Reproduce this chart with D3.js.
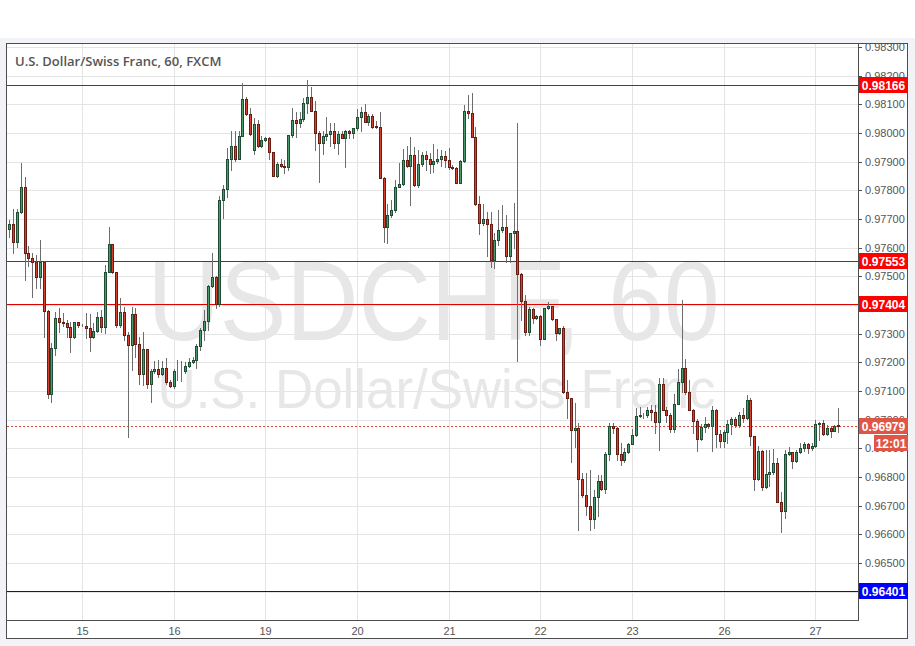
<!DOCTYPE html>
<html><head><meta charset="utf-8">
<script src="https://cdn.jsdelivr.net/npm/d3@7"></script>
<style>html,body{margin:0;padding:0;background:#fff;}svg{display:block;}</style>
</head><body><svg id="c" width="915" height="646"></svg>
<script>
// ---- data (hourly candles, 14th 05:00 -> 27th 06:00) ----
const openP = [
0.97664,0.97684,0.97619,0.97723,0.97810,0.97580,0.97563,0.97549,0.97496,0.97549,
0.97380,0.97088,0.97249,0.97354,0.97342,0.97338,0.97322,0.97287,0.97340,0.97330,
0.97327,0.97318,0.97287,0.97310,0.97357,0.97322,0.97516,0.97612,0.97514,0.97329,
0.97377,0.97294,0.97259,0.97368,0.97264,0.97158,0.97245,0.97126,0.97169,0.97175,
0.97159,0.97181,0.97130,0.97119,0.97169,0.97170,0.97169,0.97188,0.97200,0.97208,
0.97257,0.97313,0.97344,0.97466,0.97497,0.97402,0.97768,0.97803,0.97908,0.97955,
0.97911,0.97990,0.98117,0.98068,0.97940,0.98030,0.97955,0.97975,0.97981,0.97932,
0.97851,0.97891,0.97886,0.97880,0.97992,0.98045,0.98036,0.98048,0.98104,0.98125,
0.98078,0.98001,0.97966,0.97990,0.97996,0.98008,0.97966,0.97996,0.97984,0.98007,
0.97999,0.98016,0.98055,0.98072,0.98039,0.98058,0.98024,0.98022,0.97844,0.97673,
0.97714,0.97731,0.97812,0.97821,0.97906,0.97886,0.97923,0.97820,0.97891,0.97923,
0.97909,0.97891,0.97902,0.97909,0.97919,0.97906,0.97883,0.97878,0.97827,0.97902,
0.98077,0.98071,0.97987,0.97751,0.97685,0.97700,0.97681,0.97557,0.97627,0.97661,
0.97672,0.97572,0.97650,0.97658,0.97507,0.97415,0.97305,0.97386,0.97353,0.97362,
0.97281,0.97388,0.97396,0.97350,0.97301,0.97318,0.97095,0.97074,0.96964,0.96972,
0.96792,0.96737,0.96700,0.96652,0.96729,0.96785,0.96757,0.96880,0.96978,0.96970,
0.96880,0.96859,0.96886,0.96915,0.96946,0.97013,0.97016,0.97016,0.97033,0.97027,
0.96993,0.97126,0.97035,0.97016,0.96966,0.97056,0.97130,0.97179,0.97095,0.97035,
0.96996,0.96931,0.96975,0.96985,0.96977,0.97035,0.96950,0.96926,0.96957,0.96985,
0.97001,0.96981,0.97016,0.97004,0.97068,0.96943,0.96792,0.96890,0.96764,0.96810,
0.96816,0.96848,0.96713,0.96681,0.96879,0.96886,0.96855,0.96886,0.96900,0.96914,
0.96900,0.96908,0.96985,0.96988,0.96950,0.96971,0.96961,0.96980];
const highP = [
0.97696,0.97734,0.97734,0.97894,0.97845,0.97605,0.97580,0.97575,0.97627,0.97552,
0.97382,0.97266,0.97377,0.97389,0.97372,0.97348,0.97342,0.97342,0.97341,0.97332,
0.97372,0.97368,0.97337,0.97377,0.97382,0.97539,0.97671,0.97614,0.97516,0.97424,
0.97394,0.97305,0.97394,0.97390,0.97289,0.97306,0.97248,0.97175,0.97205,0.97208,
0.97204,0.97214,0.97138,0.97175,0.97208,0.97204,0.97201,0.97214,0.97219,0.97264,
0.97319,0.97382,0.97470,0.97580,0.97500,0.97780,0.97818,0.97946,0.98007,0.98007,
0.98007,0.98173,0.98127,0.98086,0.98051,0.98047,0.97990,0.97986,0.97987,0.97934,
0.97900,0.97908,0.97906,0.97994,0.98086,0.98074,0.98074,0.98121,0.98185,0.98162,
0.98110,0.98008,0.98008,0.98057,0.98034,0.98036,0.98008,0.98007,0.98010,0.98011,
0.98018,0.98083,0.98090,0.98100,0.98068,0.98068,0.98041,0.98073,0.97845,0.97751,
0.97768,0.97836,0.97894,0.97944,0.97955,0.97987,0.97951,0.97940,0.97934,0.97937,
0.97931,0.97961,0.97944,0.97940,0.97937,0.97947,0.97887,0.97880,0.97906,0.98098,
0.98133,0.98140,0.98022,0.97780,0.97752,0.97725,0.97725,0.97651,0.97731,0.97748,
0.97714,0.97651,0.97755,0.98036,0.97510,0.97435,0.97394,0.97388,0.97364,0.97364,
0.97390,0.97411,0.97397,0.97351,0.97319,0.97326,0.97138,0.97075,0.97057,0.96988,
0.96814,0.96814,0.96824,0.96754,0.96806,0.96806,0.96886,0.96987,0.96987,0.96973,
0.96919,0.96900,0.96919,0.96966,0.97039,0.97045,0.97023,0.97045,0.97051,0.97051,
0.97144,0.97144,0.97045,0.97022,0.97091,0.97175,0.97418,0.97210,0.97138,0.97036,
0.97001,0.96985,0.97010,0.96990,0.97047,0.97036,0.96964,0.96964,0.96999,0.97010,
0.97010,0.97028,0.97039,0.97086,0.97074,0.96944,0.96908,0.96894,0.96894,0.96894,
0.96896,0.96865,0.96748,0.96894,0.96905,0.96887,0.96894,0.96917,0.96921,0.96917,
0.96917,0.96999,0.96993,0.96999,0.96982,0.96977,0.96980,0.97042];
const lowP = [
0.97638,0.97583,0.97604,0.97720,0.97487,0.97535,0.97429,0.97459,0.97459,0.97289,
0.97074,0.97060,0.97226,0.97307,0.97327,0.97289,0.97237,0.97284,0.97322,0.97328,
0.97285,0.97240,0.97284,0.97306,0.97306,0.97303,0.97514,0.97510,0.97324,0.97324,
0.97278,0.96940,0.97173,0.97219,0.97126,0.97120,0.97112,0.97060,0.97161,0.97150,
0.97155,0.97126,0.97114,0.97112,0.97138,0.97136,0.97161,0.97184,0.97196,0.97179,
0.97243,0.97278,0.97313,0.97464,0.97388,0.97395,0.97702,0.97776,0.97871,0.97903,
0.97909,0.97988,0.98063,0.97993,0.97926,0.97952,0.97952,0.97973,0.97911,0.97849,
0.97847,0.97883,0.97859,0.97871,0.97987,0.97987,0.98022,0.98042,0.98069,0.98076,
0.97940,0.97830,0.97926,0.97975,0.97955,0.97946,0.97926,0.97982,0.97883,0.97982,
0.97982,0.98010,0.98008,0.98038,0.98028,0.98016,0.98018,0.97842,0.97620,0.97617,
0.97708,0.97725,0.97811,0.97818,0.97882,0.97748,0.97815,0.97811,0.97885,0.97872,
0.97862,0.97864,0.97894,0.97885,0.97881,0.97873,0.97873,0.97824,0.97824,0.97899,
0.98052,0.97986,0.97749,0.97648,0.97679,0.97572,0.97533,0.97530,0.97609,0.97654,
0.97550,0.97549,0.97598,0.97205,0.97348,0.97295,0.97295,0.97336,0.97352,0.97260,
0.97280,0.97385,0.97349,0.97278,0.97300,0.97093,0.97005,0.96853,0.96906,0.96615,
0.96731,0.96667,0.96615,0.96622,0.96664,0.96754,0.96743,0.96859,0.96952,0.96859,
0.96841,0.96853,0.96882,0.96914,0.96943,0.97008,0.97005,0.97008,0.96999,0.96954,
0.96894,0.97033,0.96993,0.96957,0.96957,0.97054,0.97097,0.97091,0.97033,0.96954,
0.96891,0.96929,0.96957,0.96971,0.96891,0.96906,0.96906,0.96906,0.96917,0.96950,
0.96975,0.96975,0.96993,0.97003,0.96911,0.96754,0.96789,0.96754,0.96762,0.96768,
0.96812,0.96711,0.96609,0.96657,0.96876,0.96832,0.96853,0.96882,0.96891,0.96882,
0.96894,0.96906,0.96929,0.96946,0.96946,0.96939,0.96959,0.96957];
const closeP = [
0.97684,0.97619,0.97723,0.97810,0.97580,0.97563,0.97549,0.97496,0.97549,0.97380,
0.97088,0.97249,0.97354,0.97342,0.97338,0.97322,0.97287,0.97340,0.97329,0.97330,
0.97318,0.97287,0.97310,0.97357,0.97322,0.97516,0.97612,0.97514,0.97329,0.97377,
0.97294,0.97259,0.97368,0.97264,0.97158,0.97245,0.97126,0.97169,0.97175,0.97159,
0.97181,0.97130,0.97119,0.97169,0.97170,0.97169,0.97188,0.97200,0.97208,0.97257,
0.97313,0.97344,0.97466,0.97497,0.97402,0.97768,0.97803,0.97908,0.97955,0.97911,
0.97990,0.98117,0.98068,0.97995,0.98030,0.97955,0.97975,0.97981,0.97932,0.97851,
0.97891,0.97886,0.97880,0.97992,0.98045,0.98036,0.98048,0.98104,0.98125,0.98078,
0.98001,0.97966,0.97990,0.97996,0.98008,0.97966,0.97996,0.97984,0.98007,0.97999,
0.98016,0.98055,0.98072,0.98039,0.98058,0.98020,0.98020,0.97844,0.97673,0.97714,
0.97731,0.97812,0.97821,0.97906,0.97886,0.97923,0.97820,0.97891,0.97923,0.97909,
0.97891,0.97902,0.97909,0.97919,0.97906,0.97883,0.97878,0.97827,0.97902,0.98077,
0.98071,0.97987,0.97751,0.97685,0.97700,0.97681,0.97557,0.97627,0.97661,0.97672,
0.97572,0.97650,0.97658,0.97507,0.97415,0.97305,0.97386,0.97353,0.97362,0.97281,
0.97388,0.97396,0.97350,0.97301,0.97318,0.97095,0.97074,0.96964,0.96972,0.96792,
0.96737,0.96700,0.96652,0.96729,0.96785,0.96757,0.96880,0.96978,0.96970,0.96880,
0.96859,0.96886,0.96915,0.96946,0.97013,0.97016,0.97016,0.97033,0.97027,0.96993,
0.97126,0.97035,0.97016,0.96966,0.97056,0.97130,0.97179,0.97095,0.97035,0.96996,
0.96931,0.96975,0.96985,0.96977,0.97035,0.96950,0.96926,0.96957,0.96985,0.97001,
0.96981,0.97016,0.97004,0.97068,0.96943,0.96792,0.96890,0.96764,0.96810,0.96816,
0.96848,0.96713,0.96681,0.96879,0.96886,0.96855,0.96886,0.96900,0.96914,0.96900,
0.96908,0.96985,0.96988,0.96950,0.96971,0.96961,0.96978,0.96979];

const dayLabels = ["15","16","19","20","21","22","23","26","27"];
const dayStartIndex = [19,43,67,91,115,139,163,187,211];
const priceTicks = [0.983,0.982,0.981,0.980,0.979,0.978,0.977,0.976,0.975,0.974,0.973,0.972,0.971,0.970,0.969,0.968,0.967,0.966,0.965,0.964];
const levelValues = [0.98166, 0.97553, 0.97404, 0.96401];
const levelColors = ["#e00000", "#e00000", "#e00000", "#0000ff"];
const levelBoxColors = ["#ff0000", "#ff0000", "#ff0000", "#0000ff"];
const lastPrice = 0.96979;
const countdown = "12:01";
const titleText = "U.S. Dollar/Swiss Franc, 60, FXCM";
const wmMain = "USDCHF, 60";
const wmSub = "U.S. Dollar/Swiss Franc";

// ---- layout ----
const L = 7, R = 858, T = 43, B = 620;
const svg = d3.select("#c");
const n = openP.length;
const candles = d3.range(n).map(i => ({i, o: openP[i], h: highP[i], l: lowP[i], c: closeP[i]}));

const x = d3.scaleBand().domain(d3.range(n)).range([7.4, 7.4 + n * 3.82]).paddingInner(0);
const cx = i => x(i) + x.bandwidth() / 2;
const y = d3.scaleLinear().domain([0.96301, 0.98314]).range([B, T]);

svg.append("rect").attr("x",0).attr("y",38).attr("width",915).attr("height",608).attr("fill","#f2f3f7");
svg.append("rect").attr("x",6.5).attr("y",43.5).attr("width",901).attr("height",595).attr("fill","#fff").attr("stroke","#4d4d4d");

const defs = svg.append("defs");
defs.append("clipPath").attr("id","plot").append("rect").attr("x",L).attr("y",T+1).attr("width",R-L).attr("height",B-T-1);

const g = svg.append("g").attr("clip-path","url(#plot)");
// grid
g.selectAll("line.hg").data(priceTicks).join("line")
  .attr("x1",L).attr("x2",R).attr("y1",d=>Math.round(y(d))+0.5).attr("y2",d=>Math.round(y(d))+0.5)
  .attr("stroke","#e4e4e4");
g.selectAll("line.vg").data(dayStartIndex).join("line")
  .attr("x1",d=>Math.round(cx(d))+0.5).attr("x2",d=>Math.round(cx(d))+0.5).attr("y1",T).attr("y2",B)
  .attr("stroke","#e4e4e4");

// watermark
const wmX = (L + R) / 2 + 1;
g.append("text").text(wmMain).attr("x",wmX).attr("y",340).attr("text-anchor","middle")
  .attr("font-family","Liberation Sans, Arial, sans-serif").attr("font-size",114)
  .attr("textLength",572).attr("lengthAdjust","spacingAndGlyphs").attr("fill","#e7e7e7");
g.append("text").text(wmSub).attr("x",wmX+3).attr("y",408).attr("text-anchor","middle")
  .attr("font-family","Liberation Sans, Arial, sans-serif").attr("font-size",55)
  .attr("textLength",558).attr("lengthAdjust","spacingAndGlyphs").attr("fill","#e7e7e7");

// level lines
g.selectAll("line.lv").data(levelValues).join("line")
  .attr("x1",L).attr("x2",R).attr("y1",d=>Math.round(y(d))+0.5).attr("y2",d=>Math.round(y(d))+0.5)
  .attr("stroke",(d,i)=>levelColors[i]).attr("stroke-width",1);

// current price dashed
g.append("line").attr("x1",L).attr("x2",R)
  .attr("y1",Math.round(y(lastPrice))+0.5).attr("y2",Math.round(y(lastPrice))+0.5)
  .attr("stroke","#d9463a").attr("stroke-dasharray","2,2");

// candles
const cg = g.append("g");
const up = d => d.c >= d.o;
cg.selectAll("line.wick").data(candles).join("line")
  .attr("x1",d=>Math.round(cx(d.i))+0.5).attr("x2",d=>Math.round(cx(d.i))+0.5)
  .attr("y1",d=>Math.round(y(d.h))).attr("y2",d=>Math.round(y(d.l))+1)
  .attr("stroke","#6d6d6d");
cg.selectAll("rect.body").data(candles).join("rect")
  .attr("x",d=>Math.round(cx(d.i))-0.5)
  .attr("y",d=>Math.round(y(Math.max(d.o,d.c)))+0.5)
  .attr("width",2)
  .attr("height",d=>Math.max(0, Math.round(y(Math.min(d.o,d.c))) - Math.round(y(Math.max(d.o,d.c)))))
  .attr("fill",d=>up(d)?"#4a9a6b":"#d4402e")
  .attr("stroke",d=>up(d)?"#1f4d33":"#6a1c12").attr("stroke-width",1);

// axes lines
svg.append("line").attr("x1",R+0.5).attr("x2",R+0.5).attr("y1",T).attr("y2",B+1).attr("stroke","#4d4d4d");
svg.append("line").attr("x1",L).attr("x2",R+1).attr("y1",B+0.5).attr("y2",B+0.5).attr("stroke","#4d4d4d");

// price ticks & labels
const yt = svg.append("g");
yt.selectAll("line").data(priceTicks).join("line")
  .attr("x1",R).attr("x2",R+4).attr("y1",d=>Math.round(y(d))+0.5).attr("y2",d=>Math.round(y(d))+0.5)
  .attr("stroke","#4d4d4d");
yt.selectAll("text").data(priceTicks).join("text")
  .attr("x",R+7).attr("y",d=>y(d)+4).text(d=>d3.format(".5f")(d))
  .attr("font-family","Liberation Sans, Arial, sans-serif").attr("font-size",11).attr("fill","#555");

// time labels
svg.selectAll("text.tl").data(dayStartIndex).join("text")
  .attr("x",d=>Math.round(cx(d))+0.5).attr("y",635).attr("text-anchor","middle").text((d,i)=>dayLabels[i])
  .attr("font-family","Liberation Sans, Arial, sans-serif").attr("font-size",11).attr("fill","#555");

// level boxes
const box = (val, color, txt, x0, w) => {
  const yy = Math.round(y(val));
  svg.append("rect").attr("x",x0).attr("y",yy-8).attr("width",w).attr("height",16).attr("fill",color);
  svg.append("text").attr("x",x0 + w/2).attr("y",yy+4.5).attr("text-anchor","middle").text(txt)
    .attr("font-family","Liberation Sans, Arial, sans-serif").attr("font-size",12).attr("font-weight","bold").attr("fill","#fff");
};
levelValues.forEach((v,i)=>box(v, levelBoxColors[i], d3.format(".5f")(v), R+1, 49));
box(lastPrice, "#df5646", d3.format(".5f")(lastPrice), R+1, 49);
{
  const yy = Math.round(y(lastPrice)) + 17;
  svg.append("rect").attr("x",874).attr("y",yy-8).attr("width",34).attr("height",16).attr("fill","#df5646");
  svg.append("text").attr("x",891).attr("y",yy+4.5).attr("text-anchor","middle").text(countdown)
    .attr("font-family","Liberation Sans, Arial, sans-serif").attr("font-size",12).attr("font-weight","bold").attr("fill","#fff");
}

// title
svg.append("text").attr("x",15).attr("y",66).text(titleText)
  .attr("font-family","Open Sans, sans-serif").attr("font-weight",600).attr("font-size",13).attr("fill","#555");
</script></body></html>
